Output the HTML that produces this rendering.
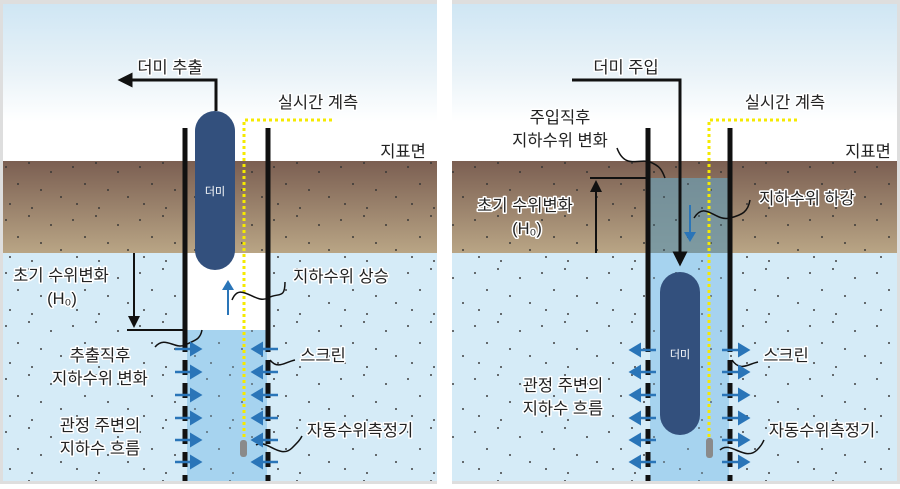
<!DOCTYPE html>
<html><head><meta charset="utf-8"><style>
html,body{margin:0;padding:0;background:#fff}
svg text{font-family:"Liberation Sans","Noto Sans CJK KR",sans-serif;font-size:16.5px;fill:#222;stroke:#fff;stroke-width:3px;paint-order:stroke;stroke-linejoin:round}
</style></head><body>
<svg width="900" height="484" viewBox="0 0 900 484" xmlns="http://www.w3.org/2000/svg">
<defs>
<linearGradient id="sky" x1="0" y1="0" x2="0" y2="1">
<stop offset="0" stop-color="#cfe6f4"/><stop offset="0.45" stop-color="#eaf3f8"/><stop offset="0.75" stop-color="#ffffff"/><stop offset="1" stop-color="#ffffff"/></linearGradient>
<linearGradient id="soil" x1="0" y1="0" x2="0" y2="1">
<stop offset="0" stop-color="#7b5f52"/><stop offset="1" stop-color="#b9a585"/></linearGradient>
<pattern id="dots" width="67" height="53" patternUnits="userSpaceOnUse">
<rect x="5" y="7" width="2" height="2" fill="#333"/><rect x="28" y="3" width="2" height="2" fill="#333"/>
<rect x="50" y="12" width="2" height="2" fill="#333"/><rect x="17" y="24" width="2" height="2" fill="#333"/>
<rect x="40" y="30" width="2" height="2" fill="#333"/><rect x="60" y="37" width="2" height="2" fill="#333"/>
<rect x="9" y="44" width="2" height="2" fill="#333"/><rect x="31" y="48" width="2" height="2" fill="#333"/>
</pattern>
<marker id="ab" markerWidth="6" markerHeight="6" refX="4" refY="3" orient="auto" markerUnits="strokeWidth"><path d="M0,0L5,3L0,6z" fill="#2a75b8"/></marker>
<marker id="ak" markerWidth="6" markerHeight="6" refX="4" refY="3" orient="auto" markerUnits="strokeWidth"><path d="M0,0L6,3L0,6z" fill="#111"/></marker>
<marker id="ak2" markerWidth="5" markerHeight="5" refX="3.5" refY="2.5" orient="auto" markerUnits="strokeWidth"><path d="M0,0L5,2.5L0,5z" fill="#111"/></marker>
</defs>
<rect width="900" height="484" fill="#dedede"/>
<rect x="437" y="0" width="15" height="484" fill="#fff"/>

<!-- LEFT PANEL -->
<g>
<rect x="3" y="4" width="434" height="157" fill="url(#sky)"/>
<rect x="3" y="161" width="434" height="92" fill="url(#soil)"/>
<rect x="3" y="161" width="434" height="92" fill="url(#dots)" opacity=".7"/>
<rect x="3" y="253" width="434" height="228" fill="#d5ebf7"/>
<rect x="3" y="253" width="434" height="228" fill="url(#dots)" opacity=".7"/>
<rect x="187" y="253" width="80" height="77" fill="#fff"/>
<rect x="187" y="330" width="80" height="151" fill="#a6d3ef"/>
<rect x="187" y="330" width="80" height="151" fill="url(#dots)" opacity=".5"/>
<line x1="185" y1="128" x2="185" y2="337" stroke="#111" stroke-width="5"/>
<line x1="185" y1="337" x2="185" y2="481" stroke="#111" stroke-width="5" stroke-dasharray="15 8"/>
<line x1="268" y1="128" x2="268" y2="337" stroke="#111" stroke-width="5"/>
<line x1="268" y1="337" x2="268" y2="481" stroke="#111" stroke-width="5" stroke-dasharray="15 8"/>
<rect x="195" y="111" width="40" height="159" rx="20" fill="#33507d"/>
<text x="215" y="195" text-anchor="middle" style="font-size:11px;fill:#fff;stroke:#33507d;stroke-width:1px">더미</text>
<polyline points="216,111 216,80 122,80" fill="none" stroke="#111" stroke-width="3" marker-end="url(#ak2)"/>
<polyline points="332,120 244,120 244,440" fill="none" stroke="#f5ea00" stroke-width="3" stroke-dasharray="3 3"/>
<rect x="240" y="440" width="7" height="17" rx="3" fill="#8a8a8a"/>
<line x1="134" y1="253" x2="134" y2="324" stroke="#111" stroke-width="2" marker-end="url(#ak)"/>
<line x1="127" y1="330" x2="185" y2="330" stroke="#111" stroke-width="2"/>
<line x1="228" y1="315" x2="228" y2="282" stroke="#2a75b8" stroke-width="2" marker-end="url(#ab)"/>
<path d="M232,300 C240,280 255,305 268,298 C278,292 285,300 285,282" fill="none" stroke="#111" stroke-width="1.5"/>
<path d="M155,347 C165,335 175,350 185,345 C195,340 200,340 202,330" fill="none" stroke="#111" stroke-width="1.5"/>
<path d="M270,360 C278,370 285,362 295,360" fill="none" stroke="#111" stroke-width="1.5"/>
<path d="M256,445 C266,438 280,460 292,448 C298,442 300,440 302,436" fill="none" stroke="#111" stroke-width="1.5"/>
<g stroke="#2a75b8" stroke-width="2.5" marker-end="url(#ab)">
<line x1="175" y1="349" x2="200" y2="349"/><line x1="175" y1="372" x2="200" y2="372"/><line x1="175" y1="395" x2="200" y2="395"/><line x1="175" y1="418" x2="200" y2="418"/><line x1="175" y1="440" x2="200" y2="440"/><line x1="175" y1="462" x2="200" y2="462"/>
<line x1="278" y1="349" x2="253" y2="349"/><line x1="278" y1="372" x2="253" y2="372"/><line x1="278" y1="395" x2="253" y2="395"/><line x1="278" y1="418" x2="253" y2="418"/><line x1="278" y1="440" x2="253" y2="440"/><line x1="278" y1="462" x2="253" y2="462"/>
</g>
<text x="170" y="73" text-anchor="middle">더미 추출</text>
<text x="318" y="108" text-anchor="middle">실시간 계측</text>
<text x="403" y="157" text-anchor="middle">지표면</text>
<text x="61" y="281" text-anchor="middle">초기 수위변화</text>
<text x="62" y="304" text-anchor="middle">(H₀)</text>
<text x="341" y="282" text-anchor="middle">지하수위 상승</text>
<text x="100" y="361" text-anchor="middle">추출직후</text>
<text x="100" y="384" text-anchor="middle">지하수위 변화</text>
<text x="323" y="361" text-anchor="middle">스크린</text>
<text x="100" y="431" text-anchor="middle">관정 주변의</text>
<text x="100" y="454" text-anchor="middle">지하수 흐름</text>
<text x="360" y="436" text-anchor="middle">자동수위측정기</text>
</g>

<!-- RIGHT PANEL -->
<g>
<rect x="452" y="4" width="445" height="157" fill="url(#sky)"/>
<rect x="452" y="161" width="445" height="92" fill="url(#soil)"/>
<rect x="452" y="161" width="445" height="92" fill="url(#dots)" opacity=".7"/>
<rect x="452" y="253" width="445" height="228" fill="#d5ebf7"/>
<rect x="452" y="253" width="445" height="228" fill="url(#dots)" opacity=".7"/>
<rect x="650" y="178" width="79" height="75" fill="#6f97a8" opacity=".8"/>
<rect x="650" y="253" width="79" height="228" fill="#a6d3ef"/>
<rect x="650" y="178" width="79" height="303" fill="url(#dots)" opacity=".5"/>
<line x1="648" y1="128" x2="648" y2="337" stroke="#111" stroke-width="5"/>
<line x1="648" y1="337" x2="648" y2="481" stroke="#111" stroke-width="5" stroke-dasharray="15 8"/>
<line x1="730" y1="128" x2="730" y2="337" stroke="#111" stroke-width="5"/>
<line x1="730" y1="337" x2="730" y2="481" stroke="#111" stroke-width="5" stroke-dasharray="15 8"/>
<rect x="660" y="272" width="40" height="163" rx="20" fill="#33507d"/>
<text x="680" y="358" text-anchor="middle" style="font-size:11px;fill:#fff;stroke:#33507d;stroke-width:1px">더미</text>
<polyline points="572,80 680,80 680,262" fill="none" stroke="#111" stroke-width="3" marker-end="url(#ak2)"/>
<polyline points="797,120 709,120 709,438" fill="none" stroke="#f5ea00" stroke-width="3" stroke-dasharray="3 3"/>
<rect x="706" y="438" width="7" height="20" rx="3" fill="#8a8a8a"/>
<line x1="590" y1="178" x2="648" y2="178" stroke="#111" stroke-width="2"/>
<line x1="596" y1="253" x2="596" y2="184" stroke="#111" stroke-width="2" marker-end="url(#ak)"/>
<line x1="690" y1="205" x2="690" y2="240" stroke="#2a75b8" stroke-width="2" marker-end="url(#ab)"/>
<path d="M617,148 C625,170 640,158 650,162 C660,166 662,170 665,178" fill="none" stroke="#111" stroke-width="1.5"/>
<path d="M694,218 C705,200 715,222 730,218 C742,215 748,212 750,200" fill="none" stroke="#111" stroke-width="1.5"/>
<path d="M732,360 C740,372 748,364 758,362" fill="none" stroke="#111" stroke-width="1.5"/>
<path d="M720,450 C730,440 745,462 757,450 C761,446 762,444 764,440" fill="none" stroke="#111" stroke-width="1.5"/>
<g stroke="#2a75b8" stroke-width="2.5" marker-end="url(#ab)">
<line x1="656" y1="350" x2="631" y2="350"/><line x1="656" y1="372" x2="631" y2="372"/><line x1="656" y1="395" x2="631" y2="395"/><line x1="656" y1="418" x2="631" y2="418"/><line x1="656" y1="440" x2="631" y2="440"/><line x1="656" y1="462" x2="631" y2="462"/>
<line x1="722" y1="350" x2="748" y2="350"/><line x1="722" y1="372" x2="748" y2="372"/><line x1="722" y1="395" x2="748" y2="395"/><line x1="722" y1="418" x2="748" y2="418"/><line x1="722" y1="440" x2="748" y2="440"/><line x1="722" y1="462" x2="748" y2="462"/>
</g>
<text x="626" y="73" text-anchor="middle">더미 주입</text>
<text x="785" y="108" text-anchor="middle">실시간 계측</text>
<text x="868" y="157" text-anchor="middle">지표면</text>
<text x="560" y="123" text-anchor="middle">주입직후</text>
<text x="560" y="146" text-anchor="middle">지하수위 변화</text>
<text x="525" y="211" text-anchor="middle">초기 수위변화</text>
<text x="527" y="234" text-anchor="middle">(H₀)</text>
<text x="807" y="204" text-anchor="middle">지하수위 하강</text>
<text x="786" y="361" text-anchor="middle">스크린</text>
<text x="563" y="391" text-anchor="middle">관정 주변의</text>
<text x="563" y="414" text-anchor="middle">지하수 흐름</text>
<text x="822" y="436" text-anchor="middle">자동수위측정기</text>
</g>
</svg>
</body></html>
